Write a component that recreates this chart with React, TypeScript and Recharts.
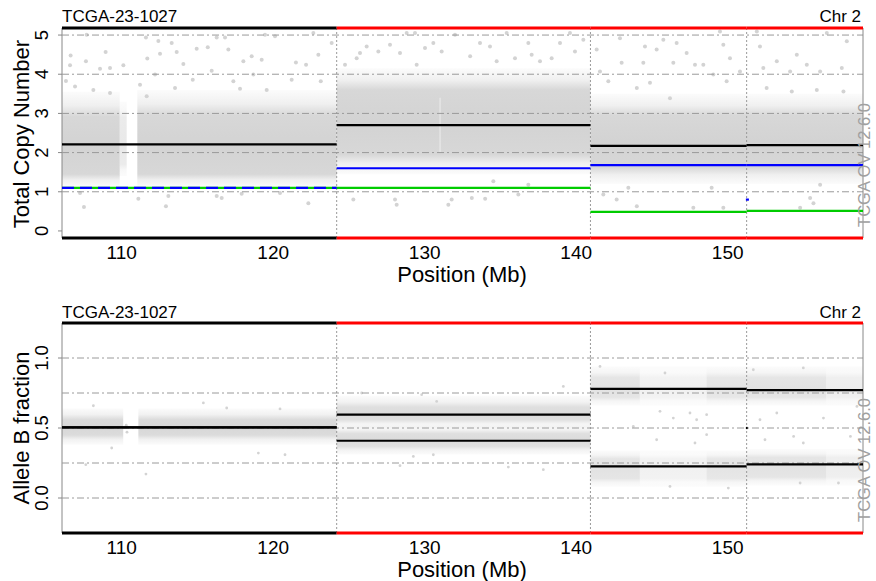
import React from "react";
import {
  ComposedChart,
  XAxis,
  YAxis,
  Scatter,
  ReferenceLine,
  ReferenceArea,
} from "recharts";

const FONT = '"Liberation Sans", Arial, Helvetica, sans-serif';

// axes
const xDomain = [106.06, 158.93];
const xTicks = [110, 120, 130, 140, 150];
const cnDomain = [-0.18, 5.18];
const cnTicks = [0, 1, 2, 3, 4, 5];
const cnGrid = [1, 2, 3, 4, 5];
const bafDomain = [-0.25, 1.25];
const bafTicks = [0, 0.5, 1];
const bafGrid = [0, 0.25, 0.5, 0.75, 1];

// segmentation (Mb)
const segStart = [106.06, 124.19, 140.94, 151.25];
const segEnd = [124.19, 140.94, 151.25, 158.93];
const segChanged = [false, true, true, true];
const segTotal = [2.21, 2.7, 2.17, 2.19];
const segBlue = [1.1, 1.6, 1.68, 1.68];
const segGreen = [1.1, 1.1, 0.485, 0.51];
const segBafHigh = [0.504, 0.595, 0.78, 0.771];
const segBafLow = [0.504, 0.409, 0.226, 0.24];
const breakpoints = [124.19, 140.94, 151.25];

// density of the copy number cloud:
// [from, to, outerLo, coreLo, coreHi, outerHi, coreDensity]
const cnCloud = [
  [106.06, 109.87, 1.12, 1.45, 2.92, 3.55, 1],
  [109.87, 110.33, 1.4, 1.7, 2.9, 3.3, 0.5],
  [111.03, 124.19, 1.12, 1.45, 2.95, 3.6, 1],
  [124.19, 140.94, 1.45, 1.95, 3.6, 4.15, 1],
  [140.94, 158.93, 1.2, 1.62, 2.95, 3.5, 1],
];
const cnHoles = [[130.96, 131.07, 2.0, 3.4]];

// scattered copy number points [Mb, CN]
const cnPoints = [
  [107.69, 5.01], [106.63, 4.48], [108.94, 4.57], [107.64, 4.33], [106.59, 4.23],
  [108.57, 4.14], [110.11, 4.23], [109.23, 4.16], [111.6, 4.94], [112.42, 4.85],
  [113.3, 4.8], [111.69, 4.4], [112.53, 4.52], [113.63, 4.57], [114.07, 4.26],
  [114.95, 4.65], [115.68, 4.69], [116.27, 4.94], [117.04, 4.63], [118.03, 4.33],
  [118.58, 4.46], [116.82, 4.94], [115.94, 4.09], [114.69, 3.86], [112.2, 3.99],
  [111.21, 3.73], [113.52, 3.65], [106.32, 3.83], [106.92, 3.69], [108.13, 3.6],
  [109.23, 3.52], [111.65, 3.44], [117.37, 3.82], [118.69, 3.99], [117.81, 3.63],
  [107.51, 0.61], [111.1, 0.82], [112.92, 0.63], [116.27, 0.89], [116.6, 0.84],
  [117.92, 0.95], [107.25, 0.97], [113.08, 0.89],
  [120.12, 4.97], [119.46, 5.01], [122.65, 5.05], [123.86, 4.8], [121.5, 4.3],
  [122.98, 4.5], [119.24, 4.37], [122.17, 4.24], [123.14, 3.82], [121.22, 3.86],
  [119.57, 3.6], [122.32, 0.71], [120.45, 0.97],
  [124.74, 4.24], [125.51, 4.41], [125.73, 4.54], [126.17, 4.71], [126.94, 4.58],
  [127.71, 4.75], [128.81, 5.05], [129.36, 5.05], [129.47, 4.24], [130.02, 4.67],
  [130.57, 4.8], [131.12, 4.58], [132.0, 5.01], [128.37, 4.54], [125.29, 0.8],
  [128.04, 0.8], [128.15, 0.67], [131.56, 0.67], [131.78, 0.8],
  [135.41, 5.05], [133.65, 4.8], [134.31, 4.71], [136.84, 4.8], [138.93, 4.8],
  [140.47, 4.88], [139.59, 5.05], [133.0, 4.46], [134.75, 4.33], [135.96, 4.41],
  [137.61, 4.33], [137.06, 4.5], [138.38, 4.41], [139.92, 4.58], [133.11, 0.84],
  [133.99, 0.82], [136.18, 0.93], [136.84, 1.18], [134.53, 1.27],
  [142.89, 4.92], [141.35, 4.63], [143.0, 4.29], [144.43, 4.29], [144.54, 4.71],
  [145.31, 4.63], [141.57, 4.07], [142.12, 3.82], [144.87, 3.78], [144.0, 3.65],
  [141.79, 0.93], [142.67, 0.8], [144.0, 0.63], [143.44, 1.1],
  [145.75, 4.88], [146.63, 4.8], [149.49, 5.09], [149.71, 4.75], [146.41, 4.29],
  [147.29, 4.54], [148.39, 4.24], [147.84, 4.24], [150.15, 4.41], [149.93, 3.82],
  [149.05, 3.99], [150.81, 4.07], [146.19, 3.39], [147.73, 0.59], [149.71, 0.59],
  [148.94, 1.1],
  [151.92, 5.09], [152.13, 4.71], [153.24, 4.33], [152.35, 4.16], [154.56, 4.5],
  [155.22, 4.24], [156.54, 5.05], [157.86, 4.84], [157.53, 4.16], [156.1, 4.07],
  [154.12, 4.07], [152.57, 3.65], [154.23, 3.56], [155.88, 3.6], [157.64, 3.56],
  [155.44, 0.84], [155.66, 0.71], [154.78, 0.59], [156.1, 1.18],
];

// allele B fraction bands: [from, to, outerLo, coreLo, coreHi, outerHi, coreDensity]
const bafCloud = [
  [106.06, 110.1, 0.38, 0.45, 0.56, 0.64, 0.9],
  [111.1, 124.19, 0.38, 0.45, 0.56, 0.64, 0.9],
  [124.19, 140.94, 0.5, 0.56, 0.65, 0.73, 0.8],
  [124.19, 140.94, 0.31, 0.37, 0.46, 0.52, 0.8],
  [140.94, 144.2, 0.66, 0.72, 0.86, 0.94, 0.65],
  [140.94, 144.2, 0.08, 0.14, 0.28, 0.34, 0.65],
  [144.2, 148.6, 0.66, 0.72, 0.86, 0.94, 0.32],
  [144.2, 148.6, 0.08, 0.14, 0.28, 0.34, 0.32],
  [148.6, 151.25, 0.66, 0.72, 0.86, 0.94, 0.6],
  [148.6, 151.25, 0.08, 0.14, 0.28, 0.34, 0.6],
  [151.25, 156.5, 0.66, 0.72, 0.86, 0.94, 0.65],
  [151.25, 156.5, 0.09, 0.15, 0.29, 0.35, 0.65],
  [156.5, 158.93, 0.66, 0.72, 0.86, 0.94, 0.4],
  [156.5, 158.93, 0.09, 0.15, 0.29, 0.35, 0.4],
];

const bafPoints = [
  [111.6, 0.171], [109.34, 0.357], [119.02, 0.321], [120.78, 0.309], [115.39, 0.679],
  [108.13, 0.659], [116.93, 0.643], [120.45, 0.636], [107.63, 0.238], [125.84, 0.75],
  [129.8, 0.738], [128.37, 0.231], [130.57, 0.309], [129.25, 0.297], [130.79, 0.69],
  [139.15, 0.797], [135.52, 0.221], [137.83, 0.202], [141.57, 0.94], [145.86, 0.893],
  [145.53, 0.619], [146.41, 0.571], [147.51, 0.607], [147.95, 0.559], [148.61, 0.595],
  [145.31, 0.416], [147.84, 0.393], [148.61, 0.452], [143.77, 0.511], [146.19, 0.083],
  [150.04, 0.071], [152.13, 0.559], [153.24, 0.607], [156.32, 0.571], [154.35, 0.44],
  [158.1, 0.44], [152.46, 0.416], [154.99, 0.393], [154.78, 0.107], [157.31, 0.107],
  [158.53, 0.654], [151.69, 0.916], [154.99, 0.929], [110.3, 0.52], [110.35, 0.47],
];

// tiny one-probe segments at the last breakpoint
const tinyCn = [[151.2, 151.4, 0.8]];
const tinyBaf = [[151.2, 151.32, 0.5]];

const toXY = (p: number[]) => ({ x: p[0], y: p[1] });

// vertical fade for a band: edges faint, core dense
function Fade({ id, band }: { id: string; band: number[] }) {
  const [, , lo, cLo, cHi, hi, d] = band;
  const span = hi - lo;
  const a = (hi - cHi) / span;
  const b = (hi - cLo) / span;
  return (
    <linearGradient id={id} x1="0" y1="0" x2="0" y2="1">
      <stop offset={0} stopColor="#d3d3d3" stopOpacity={0.08} />
      <stop offset={a * 0.55} stopColor="#d3d3d3" stopOpacity={d * 0.35} />
      <stop offset={a} stopColor="#d3d3d3" stopOpacity={d * 0.9} />
      <stop offset={(a + b) / 2} stopColor="#d3d3d3" stopOpacity={d} />
      <stop offset={b} stopColor="#d3d3d3" stopOpacity={d * 0.9} />
      <stop offset={b + (1 - b) * 0.45} stopColor="#d3d3d3" stopOpacity={d * 0.35} />
      <stop offset={1} stopColor="#d3d3d3" stopOpacity={0.08} />
    </linearGradient>
  );
}

const xTick = ({ x, y, payload }: any) => (
  <text x={x} y={y + 21} textAnchor="middle" fontSize={19} fontFamily={FONT} fill="#000">
    {payload.value}
  </text>
);

const yTick = (digits: number) => ({ x, y, payload }: any) => (
  <text
    transform={`translate(${x},${y}) rotate(-90)`}
    textAnchor="middle"
    fontSize={18.5}
    fontFamily={FONT}
    fill="#000"
  >
    {Number(payload.value).toFixed(digits)}
  </text>
);

const dot = (r: number) => (p: any) => <circle cx={p.cx} cy={p.cy} r={r} fill="#d3d3d3" />;

function seg(key: string, x1: number, x2: number, y: number, color: string, w = 2.2, dash?: string) {
  return (
    <ReferenceLine
      key={key}
      segment={[{ x: x1, y }, { x: x2, y }]}
      stroke={color}
      strokeWidth={w}
      strokeDasharray={dash}
      ifOverflow="visible"
      zIndex={800}
    />
  );
}

function frame(yDom: number[]) {
  const out: any[] = [];
  segStart.forEach((s, i) => {
    const c = segChanged[i] ? "#ff0000" : "#000000";
    out.push(seg(`ft${i}`, s, segEnd[i], yDom[1], c, 3));
    out.push(seg(`fb${i}`, s, segEnd[i], yDom[0], c, 3));
  });
  return out;
}

function common(yDom: number[], grid: number[]) {
  return [
    ...grid.map((g) => (
      <ReferenceLine key={`g${g}`} y={g} stroke="#9a9a9a" strokeDasharray="7 3 2 3" zIndex={700} />
    )),
    ...breakpoints.map((b) => (
      <ReferenceLine key={`b${b}`} x={b} stroke="#999" strokeDasharray="2 2" zIndex={700} />
    )),
    <ReferenceLine
      key="right"
      segment={[{ x: xDomain[1], y: yDom[0] }, { x: xDomain[1], y: yDom[1] }]}
      stroke="#888"
      ifOverflow="visible"
      zIndex={700}
    />,
  ];
}

function areas(cloud: number[][], prefix: string) {
  return cloud.map((c, i) => (
    <ReferenceArea
      key={`${prefix}${i}`}
      x1={c[0]}
      x2={c[1]}
      y1={c[2]}
      y2={c[5]}
      fill={`url(#${prefix}${i})`}
      fillOpacity={1}
      stroke="none"
      zIndex={50}
    />
  ));
}

function CopyNumberPanel() {
  return (
    <ComposedChart width={876} height={290} margin={{ top: 28, right: 13, bottom: 22, left: 0 }}>
      <XAxis
        type="number"
        dataKey="x"
        domain={xDomain}
        allowDataOverflow
        ticks={xTicks}
        interval={0}
        height={30}
        axisLine={false}
        tickLine={false}
        tickSize={0}
        tickMargin={0}
        tick={xTick}
      />
      <YAxis
        type="number"
        dataKey="y"
        domain={cnDomain}
        allowDataOverflow
        ticks={cnTicks}
        interval={0}
        width={62}
        axisLine={{ stroke: "#888" }}
        tickLine={{ stroke: "#888" }}
        tickSize={4}
        tickMargin={10}
        tick={yTick(0)}
      />
      {areas(cnCloud, "cn")}
      {cnHoles.map((h, i) => (
        <ReferenceArea key={`h${i}`} x1={h[0]} x2={h[1]} y1={h[2]} y2={h[3]} fill="#fff" fillOpacity={0.35} stroke="none" zIndex={55} />
      ))}
      <Scatter data={cnPoints.map(toXY)} dataKey="y" shape={dot(2)} isAnimationActive={false} zIndex={60} />
      {common(cnDomain, cnGrid)}
      {segStart.map((s, i) => seg(`tot${i}`, s, segEnd[i], segTotal[i], "#000000"))}
      {segStart.map((s, i) => seg(`grn${i}`, s, segEnd[i], segGreen[i], "#00cc00"))}
      {segStart.map((s, i) =>
        seg(`blu${i}`, s, segEnd[i], segBlue[i], "#0000ff", 2.2, segBlue[i] === segGreen[i] ? "12 6" : undefined)
      )}
      {tinyCn.map((t, i) => seg(`tc${i}`, t[0], t[1], t[2], "#0000ff"))}
      {frame(cnDomain)}
    </ComposedChart>
  );
}

function AllelePanel() {
  return (
    <ComposedChart width={876} height={291} margin={{ top: 33, right: 13, bottom: 18, left: 0 }}>
      <XAxis
        type="number"
        dataKey="x"
        domain={xDomain}
        allowDataOverflow
        ticks={xTicks}
        interval={0}
        height={30}
        axisLine={false}
        tickLine={false}
        tickSize={0}
        tickMargin={0}
        tick={xTick}
      />
      <YAxis
        type="number"
        dataKey="y"
        domain={bafDomain}
        allowDataOverflow
        ticks={bafTicks}
        interval={0}
        width={62}
        axisLine={{ stroke: "#888" }}
        tickLine={{ stroke: "#888" }}
        tickSize={4}
        tickMargin={10}
        tick={yTick(1)}
      />
      {areas(bafCloud, "baf")}
      <Scatter data={bafPoints.map(toXY)} dataKey="y" shape={dot(1.4)} isAnimationActive={false} zIndex={60} />
      {common(bafDomain, bafGrid)}
      {segStart.map((s, i) => seg(`hi${i}`, s, segEnd[i], segBafHigh[i], "#000000"))}
      {segStart.map((s, i) => seg(`lo${i}`, s, segEnd[i], segBafLow[i], "#000000"))}
      {tinyBaf.map((t, i) => seg(`tb${i}`, t[0], t[1], t[2], "#000000"))}
      {frame(bafDomain)}
    </ComposedChart>
  );
}

export default function App() {
  const txt = { fontFamily: FONT, fill: "#000" };
  return (
    <div style={{ position: "absolute", left: 0, top: 0, width: 876, height: 581, background: "#fff" }}>
      <svg width={0} height={0} style={{ position: "absolute" }}>
        <defs>
          {cnCloud.map((c, i) => <Fade key={`cn${i}`} id={`cn${i}`} band={c} />)}
          {bafCloud.map((c, i) => <Fade key={`baf${i}`} id={`baf${i}`} band={c} />)}
        </defs>
      </svg>
      <div style={{ position: "absolute", left: 0, top: 0 }}>
        <CopyNumberPanel />
      </div>
      <div style={{ position: "absolute", left: 0, top: 290 }}>
        <AllelePanel />
      </div>
      <svg width={876} height={581} style={{ position: "absolute", left: 0, top: 0, pointerEvents: "none" }}>
        <text x={62} y={22} fontSize={17} {...txt}>TCGA-23-1027</text>
        <text x={861} y={22} fontSize={17} textAnchor="end" {...txt}>Chr 2</text>
        <text x={462} y={282} fontSize={22} textAnchor="middle" {...txt}>Position (Mb)</text>
        <text transform="translate(29,134) rotate(-90)" fontSize={22} textAnchor="middle" {...txt}>Total Copy Number</text>
        <text transform="translate(870,165) rotate(-90)" fontSize={16.5} textAnchor="middle" fontFamily={FONT} fill="#a0a0a0">TCGA OV 12.6.0</text>

        <text x={62} y={318} fontSize={17} {...txt}>TCGA-23-1027</text>
        <text x={861} y={318} fontSize={17} textAnchor="end" {...txt}>Chr 2</text>
        <text x={462} y={577} fontSize={22} textAnchor="middle" {...txt}>Position (Mb)</text>
        <text transform="translate(29,428) rotate(-90)" fontSize={22} textAnchor="middle" {...txt}>Allele B fraction</text>
        <text transform="translate(870,460) rotate(-90)" fontSize={16.5} textAnchor="middle" fontFamily={FONT} fill="#a0a0a0">TCGA OV 12.6.0</text>
      </svg>
    </div>
  );
}
